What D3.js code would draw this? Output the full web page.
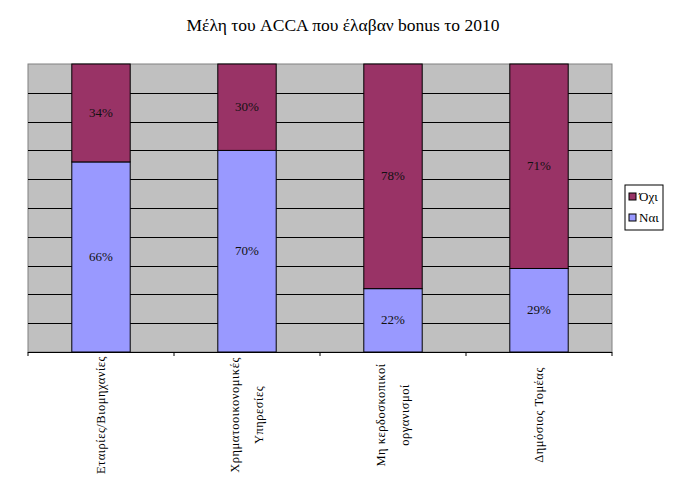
<!DOCTYPE html>
<html>
<head>
<meta charset="utf-8">
<script src="https://cdn.jsdelivr.net/npm/d3@7"></script>
<style>
  body{ margin:0; background:#fff; }
  svg text{ font-family:"Liberation Serif","Times New Roman",serif; }
</style>
</head>
<body>
<svg id="chart" width="674" height="484"></svg>
<script>
// data
const categories = [
  ["Εταιρίες/Βιομηχανίες"],
  ["Χρηματοοικονομικές","Υπηρεσίες"],
  ["Μη κερδοσκοπικοί","οργανισμοί"],
  ["Δημόσιος Τομέας"]
];
const yesVals = [66, 70, 22, 29];   // Ναι
const noVals  = [34, 30, 78, 71];   // Όχι
const seriesNames = ["Ναι", "Όχι"];
const yTicks = [0,10,20,30,40,50,60,70,80,90,100];
const title = "Μέλη του ACCA που έλαβαν bonus το 2010";

const COL = { "Ναι":"#9999FF", "Όχι":"#993366" };
const svg = d3.select('#chart');
const plot = { x0:28, x1:612, y0:64, y1:352 };

const x = d3.scaleBand().domain(d3.range(categories.length)).range([plot.x0, plot.x1]).paddingInner(0.6).paddingOuter(0.3);
const y = d3.scaleLinear().domain([0,100]).range([plot.y1, plot.y0]);

// title
svg.append('text').attr('x', 343).attr('y', 31).attr('text-anchor','middle')
  .attr('font-size', 17.5).text(title);

// plot background
svg.append('rect').attr('x', plot.x0).attr('y', plot.y0)
  .attr('width', plot.x1-plot.x0).attr('height', plot.y1-plot.y0)
  .attr('fill','#C0C0C0').attr('stroke','#808080');

// gridlines
svg.append('g').selectAll('line').data(yTicks.slice(1,-1)).join('line')
  .attr('x1', plot.x0).attr('x2', plot.x1)
  .attr('y1', d=>Math.round(y(d))+0.5).attr('y2', d=>Math.round(y(d))+0.5)
  .attr('stroke','#000').attr('stroke-width',1);

// stacked bars
const rows = categories.map((c,i)=>({i, "Ναι":yesVals[i], "Όχι":noVals[i]}));
const stack = d3.stack().keys(seriesNames)(rows);
const gBars = svg.append('g');
stack.forEach(layer=>{
  gBars.selectAll(null).data(layer).join('rect')
    .attr('x', d=>x(d.data.i)).attr('width', x.bandwidth())
    .attr('y', d=>y(d[1])).attr('height', d=>y(d[0])-y(d[1]))
    .attr('fill', COL[layer.key]).attr('stroke','#000').attr('stroke-width',1);
  gBars.selectAll(null).data(layer).join('text')
    .attr('x', d=>x(d.data.i)+x.bandwidth()/2)
    .attr('y', d=>(y(d[0])+y(d[1]))/2 + 4)
    .attr('text-anchor','middle').attr('font-size',13).attr('fill','#111')
    .text(d=>(d[1]-d[0])+'%');
});

// x axis
const xAxis = svg.append('g').attr('transform', `translate(0,${plot.y1})`);
xAxis.append('line').attr('x1',plot.x0).attr('x2',plot.x1).attr('y1',0.5).attr('y2',0.5).attr('stroke','#000');
const step = (plot.x1-plot.x0)/categories.length;
xAxis.selectAll('line.tick').data(d3.range(categories.length+1)).join('line')
  .attr('class','tick')
  .attr('x1', d=>plot.x0+d*step).attr('x2', d=>plot.x0+d*step)
  .attr('y1',0).attr('y2',4).attr('stroke','#000');

// rotated category labels
categories.forEach((lines,i)=>{
  const cx = x(i)+x.bandwidth()/2;
  const n = lines.length;
  const t = svg.append('text')
    .attr('transform', `translate(${cx},415) rotate(-90)`)
    .attr('text-anchor','middle').attr('font-size',12.5).attr('letter-spacing',0.5);
  lines.forEach((s,k)=>{
    t.append('tspan').attr('x',0).attr('y', (k-(n-1)/2)*24 + 4).text(s);
  });
});

// legend
const lg = svg.append('g').attr('transform','translate(625,185)');
lg.append('rect').attr('width',38).attr('height',45).attr('fill','#fff').attr('stroke','#000');
["Όχι","Ναι"].forEach((k,j)=>{
  lg.append('rect').attr('x',4).attr('y',8+j*21).attr('width',7).attr('height',7)
    .attr('fill',COL[k]).attr('stroke','#000');
  lg.append('text').attr('x',14).attr('y',16+j*21).attr('font-size',13).text(k);
});
</script>
</body>
</html>
